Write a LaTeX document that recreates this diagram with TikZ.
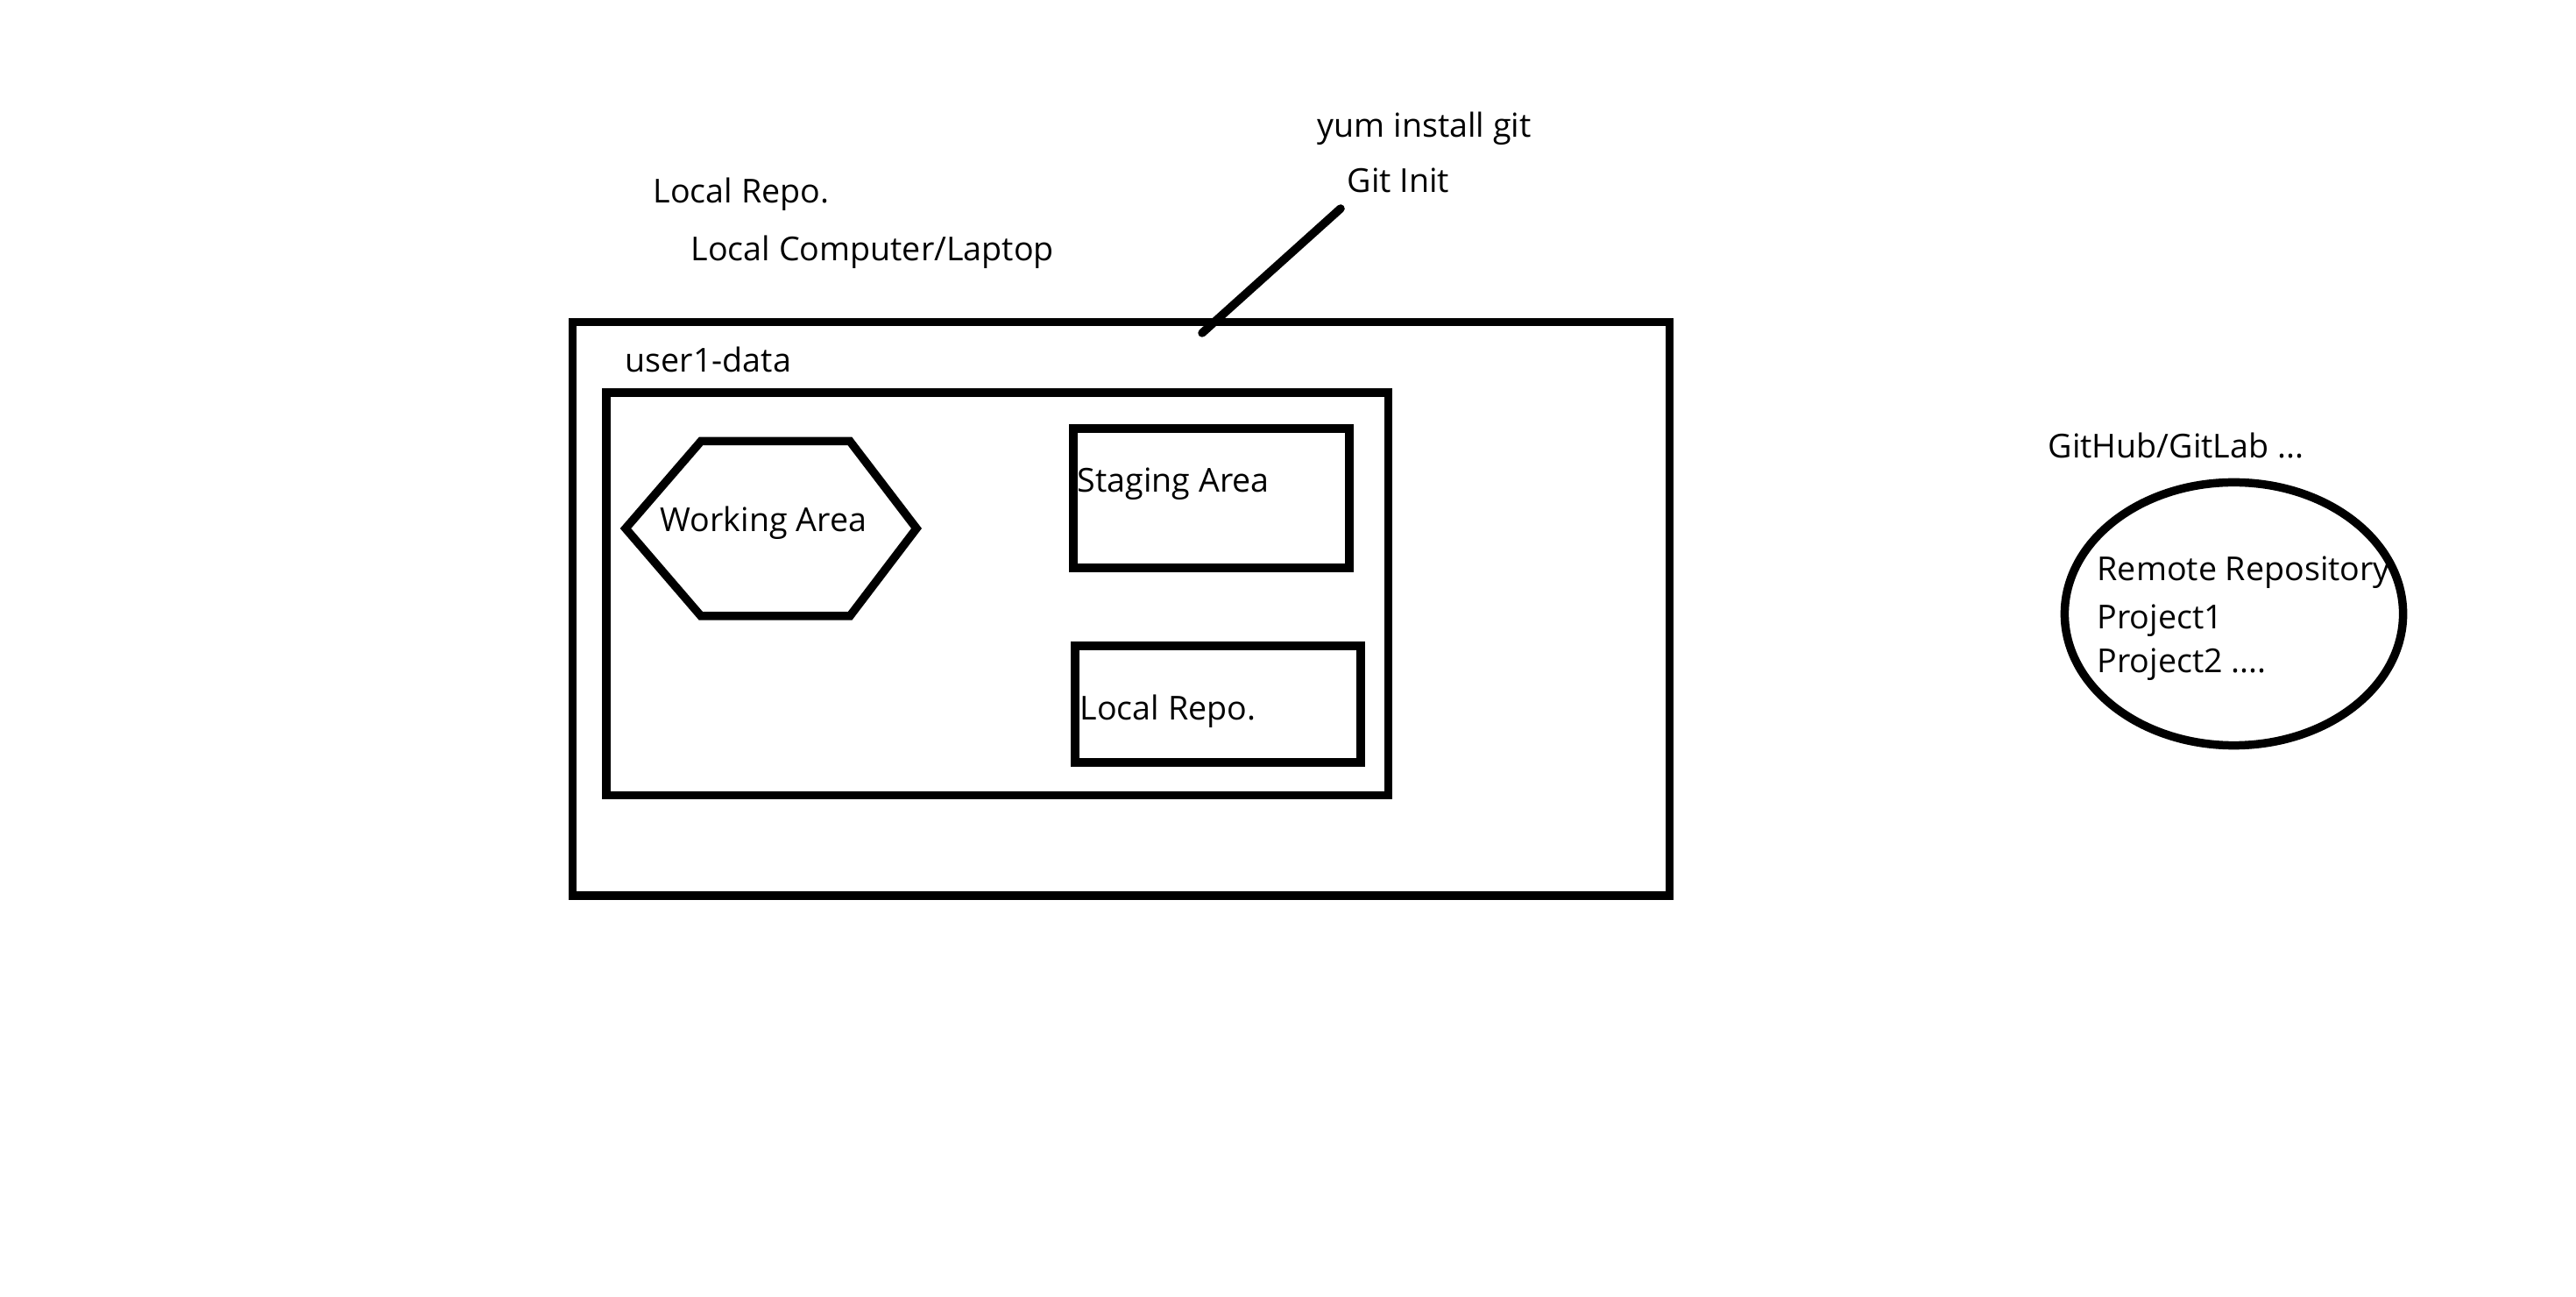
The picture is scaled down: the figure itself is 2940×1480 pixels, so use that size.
\documentclass[tikz,border=0pt]{standalone}
\usepackage{fontspec}
\setmainfont{Open Sans}
\usetikzlibrary{shapes.geometric}
\tikzset{
  thick line/.style={line width=2.7pt},
  boxshape/.style={draw, thick line, rectangle, inner sep=0pt},
  lbl/.style={anchor=base west, inner sep=0pt, font=\fontsize{10.7pt}{12.8pt}\selectfont},
}
\begin{document}
\begin{tikzpicture}[x=0.01cm, y=-0.01cm]
\useasboundingbox (0,0) rectangle (2940,1480);
% containers
\node[boxshape, minimum width=12.51cm, minimum height=6.545cm] (outer) at (1279.5,694.75) {};
\node[boxshape, minimum width=8.92cm, minimum height=4.595cm] (inner) at (1138,677.75) {};
\node[boxshape, minimum width=3.15cm, minimum height=1.59cm] (staging) at (1382.5,568.5) {};
\node[boxshape, minimum width=3.26cm, minimum height=1.33cm] (localbox) at (1390,803.5) {};
% hexagon
\draw[thick line, line join=miter] (714,603) -- (800,503.5) -- (970,503.5) -- (1046,603) -- (970,703) -- (800,703) -- cycle;
% ellipse
\node[draw, thick line, ellipse, minimum width=3.86cm, minimum height=3.0cm, inner sep=0pt] (remote) at (2549.5,700.5) {};
% connector line
\coordinate (lineA) at (1372,380);
\coordinate (lineB) at (1530,238);
\draw[thick line, line cap=round] (lineA) -- (lineB);
% labels
\node[lbl] (yum) at (1503,157) {yum install git};
\node[lbl] (gitinit) at (1537,220) {Git Init};
\node[lbl] (localrepotop) at (745,232) {Local Repo.};
\node[lbl] (laptop) at (788,298) {Local Computer/Laptop};
\node[lbl] (user) at (713,425) {user1-data};
\node[lbl] (working) at (753,607) {Working Area};
\node[lbl] (stagingtxt) at (1229,562) {Staging Area};
\node[lbl] (localrepotxt) at (1232,822) {Local Repo.};
\node[lbl] (github) at (2337,523) {GitHub/GitLab ...};
\node[lbl] (remote1) at (2393,663) {Remote Repository};
\node[lbl] (remote2) at (2393,718) {Project1};
\node[lbl] (remote3) at (2393,768) {Project2 ....};
\end{tikzpicture}
\end{document}
